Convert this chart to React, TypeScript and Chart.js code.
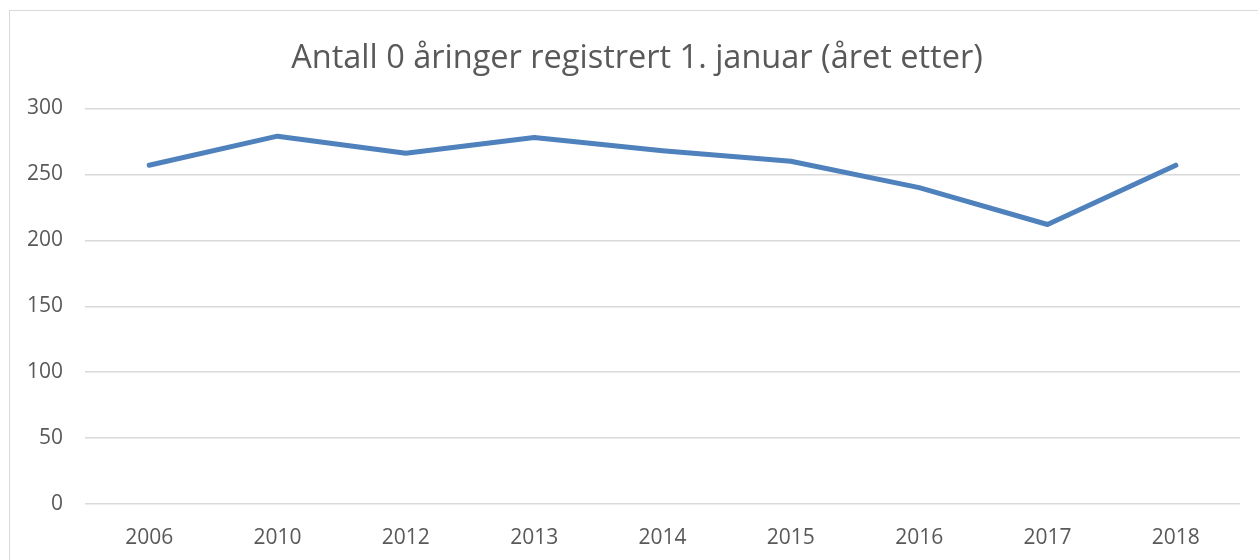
import React, { useEffect, useRef } from "react";
import { Chart, registerables } from "chart.js";

Chart.register(...registerables);

const TITLE = "Antall 0 åringer registrert 1. januar (året etter)";
const years = ["2006", "2010", "2012", "2013", "2014", "2015", "2016", "2017", "2018"];
const counts = [257, 279, 266, 278, 268, 260, 240, 212, 257];
const yTicks = [0, 50, 100, 150, 200, 250, 300];

const FONT = "'Open Sans', 'Liberation Sans', sans-serif";
const TEXT = "#595959";
const GRID = "#d9d9d9";
const LINE = "#4f81bd";

const shiftTitle = {
  id: "shiftTitle",
  afterLayout(chart: any) {
    const t = chart.titleBlock;
    if (t) {
      t.left += 34;
      t.width -= 34;
    }
  },
};

export default function App() {
  const ref = useRef<HTMLCanvasElement | null>(null);

  useEffect(() => {
    document.body.style.margin = "0";
    document.body.style.overflow = "hidden";
    const canvas = ref.current;
    if (!canvas) return;
    const chart = new Chart(canvas, {
      type: "line",
      data: {
        labels: years,
        datasets: [
          {
            data: counts,
            borderColor: LINE,
            backgroundColor: LINE,
            borderWidth: 5,
            pointRadius: 0,
            pointHoverRadius: 0,
            tension: 0,
            borderCapStyle: "round",
            borderJoinStyle: "round",
            fill: false,
          },
        ],
      },
      plugins: [shiftTitle],
      options: {
        animation: false,
        responsive: false,
        maintainAspectRatio: false,
        layout: { padding: { left: 0, right: 18, top: 0, bottom: 0 } },
        plugins: {
          legend: { display: false },
          tooltip: { enabled: false },
          title: {
            display: true,
            text: TITLE,
            color: TEXT,
            font: { family: FONT, size: 32.5, weight: "normal" },
            padding: { top: 39, bottom: 30.5 },
          },
        },
        scales: {
          x: {
            offset: true,
            grid: { display: false, drawTicks: false, offset: true },
            border: { display: false },
            ticks: {
              color: TEXT,
              font: { family: FONT, size: 21 },
              padding: 21,
              maxRotation: 0,
            },
            afterFit: (s: any) => {
              s.height = 56;
            },
          },
          y: {
            min: 0,
            max: 300,
            afterBuildTicks: (s: any) => {
              s.ticks = yTicks.map((v) => ({ value: v }));
            },
            grid: { color: GRID, lineWidth: 1.5, drawTicks: false },
            border: { display: false },
            ticks: {
              color: TEXT,
              font: { family: FONT, size: 21 },
              padding: 22,
            },
            afterFit: (s: any) => {
              s.width = 85;
            },
          },
        },
      },
    });
    return () => chart.destroy();
  }, []);

  return (
    <div style={{ position: "relative", width: 1258, height: 560, overflow: "hidden" }}>
      <div
        style={{
          position: "absolute",
          left: 9,
          top: 10,
          width: 1400,
          height: 700,
          border: `1.5px solid ${GRID}`,
          boxSizing: "border-box",
        }}
      />
      <canvas
        ref={ref}
        width={1258}
        height={560}
        style={{ position: "absolute", left: 0, top: 0, width: 1258, height: 560 }}
      />
    </div>
  );
}
